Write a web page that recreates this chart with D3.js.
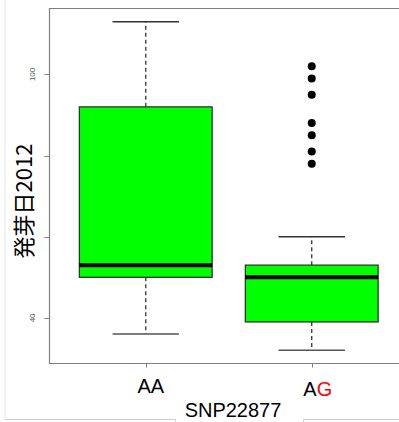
<!DOCTYPE html>
<head>
<meta charset="utf-8">
<script src="https://cdnjs.cloudflare.com/ajax/libs/d3/7.8.5/d3.min.js"></script>
</head>
<style>
    body { margin: 0; background: white; }
    text { font-family: "Liberation Sans", Arial, sans-serif; }
</style>
<body>
<svg id="chart" width="399" height="422"></svg>
</body>
<script>
    // genotypes and the five-number summaries (whisker low, q1, median, q3, whisker high)
    var groups = ["AA", "AG"]
    var whiskerLow = [36, 32]
    var q1 = [50, 39]
    var median = [53, 50]
    var q3 = [92, 53]
    var whiskerHigh = [113, 60]
    var outliersAG = [102, 99, 95, 88, 85, 81, 78]
    var yTicks = [40, 60, 80, 100]
    var yTickLabels = ["40", "", "", "100"]

    var svg = d3.select("#chart")
    var plotLeft = 49.5, plotRight = 408, plotTop = 8.5, plotBottom = 363.5

    // R style: pad data range by 4%
    var lo = d3.min(whiskerLow), hi = d3.max(whiskerHigh)
    var pad = (hi - lo) * 0.04
    var y = d3.scaleLinear().domain([lo - pad, hi + pad]).range([plotBottom, plotTop])
    var x = d3.scaleLinear().domain([0.42, 2.58]).range([plotLeft, plotRight])

    // faint slide edges
    svg.append("line").attr("x1", 5).attr("x2", 5).attr("y1", 0).attr("y2", 420)
        .attr("stroke", "#e4e4e4")
    svg.append("path").attr("d", "M5,419.5H175.5V422").attr("fill", "none").attr("stroke", "#cfcfcf")
    svg.append("path").attr("d", "M303.5,422V419.5H399").attr("fill", "none").attr("stroke", "#cfcfcf")

    var g = svg.append("g")

    groups.forEach(function(name, i) {
        var cx = x(i + 1)
        var bw = x(1.4) - x(1)
        var cw = x(1.2) - x(1)
        // whiskers
        g.append("line").attr("x1", cx).attr("x2", cx)
            .attr("y1", y(q3[i])).attr("y2", y(whiskerHigh[i]))
            .attr("stroke", "#333").attr("stroke-width", 1.3).attr("stroke-dasharray", "4,3")
        g.append("line").attr("x1", cx).attr("x2", cx)
            .attr("y1", y(q1[i])).attr("y2", y(whiskerLow[i]))
            .attr("stroke", "#333").attr("stroke-width", 1.3).attr("stroke-dasharray", "4,3")
        g.append("line").attr("x1", cx - cw).attr("x2", cx + cw)
            .attr("y1", y(whiskerHigh[i])).attr("y2", y(whiskerHigh[i]))
            .attr("stroke", "#333").attr("stroke-width", 1.5)
        g.append("line").attr("x1", cx - cw).attr("x2", cx + cw)
            .attr("y1", y(whiskerLow[i])).attr("y2", y(whiskerLow[i]))
            .attr("stroke", "#555").attr("stroke-width", 1.5)
        // box
        g.append("rect")
            .attr("x", cx - bw).attr("width", bw * 2)
            .attr("y", y(q3[i])).attr("height", y(q1[i]) - y(q3[i]))
            .attr("fill", "#00ff00").attr("stroke", "#333").attr("stroke-width", 1.3)
        g.append("line").attr("x1", cx - bw).attr("x2", cx + bw)
            .attr("y1", y(median[i])).attr("y2", y(median[i]))
            .attr("stroke", "black").attr("stroke-width", 4)
    })

    g.selectAll("circle").data(outliersAG).enter().append("circle")
        .attr("cx", x(2)).attr("cy", d => y(d)).attr("r", 4).attr("fill", "black")

    // frame (right side runs off the picture)
    svg.append("path")
        .attr("d", "M399," + plotTop + "H" + plotLeft + "V" + plotBottom + "H399")
        .attr("fill", "none").attr("stroke", "#808080").attr("stroke-width", 1.2)

    // y axis ticks
    yTicks.forEach(function(t, i) {
        svg.append("line").attr("x1", plotLeft - 5).attr("x2", plotLeft)
            .attr("y1", Math.round(y(t)) + 0.5).attr("y2", Math.round(y(t)) + 0.5)
            .attr("stroke", "#808080")
        if (yTickLabels[i] != "")
            svg.append("text")
                .attr("transform", "translate(35," + y(t) + ") rotate(-90)")
                .attr("text-anchor", "middle")
                .style("font-size", "8px").attr("fill", "#555")
                .text(yTickLabels[i])
    })

    // x ticks
    groups.forEach(function(name, i) {
        svg.append("line").attr("x1", Math.round(x(i + 1)) + 0.5).attr("x2", Math.round(x(i + 1)) + 0.5)
            .attr("y1", plotBottom).attr("y2", plotBottom + 4).attr("stroke", "#808080")
    })

    svg.append("text").attr("x", x(1) + 5).attr("y", 393)
        .attr("text-anchor", "middle").style("font-size", "20px").text(groups[0])
    var ag = svg.append("text").attr("x", x(2) + 6).attr("y", 396)
        .attr("text-anchor", "middle").style("font-size", "20px")
    ag.append("tspan").text(groups[1][0])
    ag.append("tspan").attr("fill", "red").text(groups[1][1])

    svg.append("text").attr("x", 233).attr("y", 417)
        .attr("text-anchor", "middle").style("font-size", "20px").text("SNP22877")

    svg.append("text")
        .attr("transform", "translate(32,201) rotate(-90)")
        .attr("text-anchor", "middle")
        .style("font-size", "22px")
        .style("font-family", "'Noto Sans CJK JP', sans-serif")
        .text("発芽日2012")
</script>
</html>
